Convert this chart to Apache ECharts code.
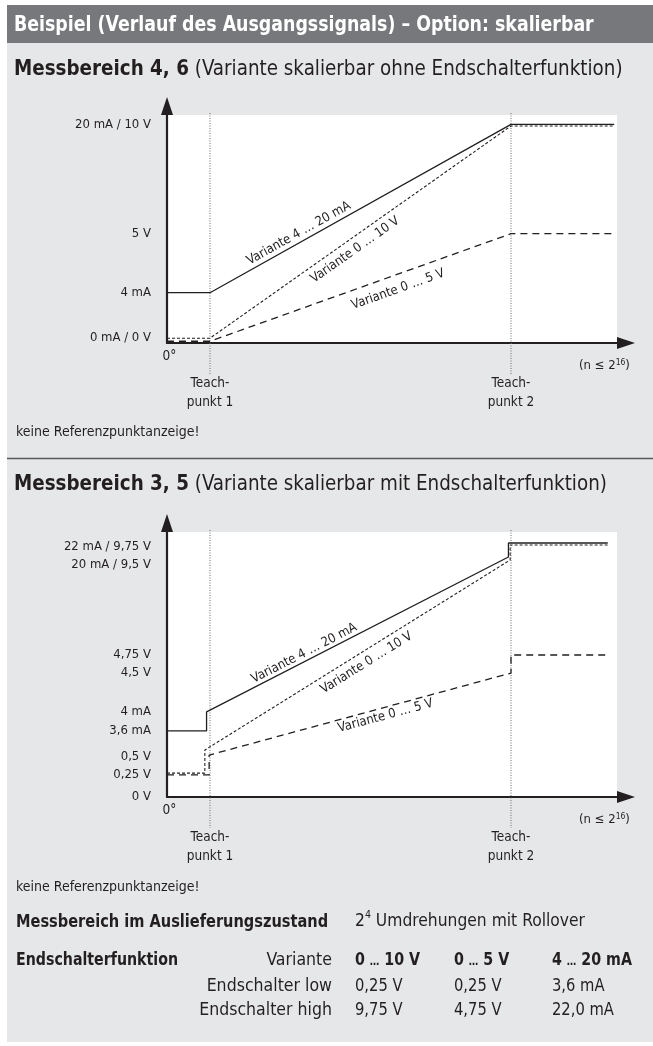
<!DOCTYPE html>
<html>
<head>
<meta charset="utf-8">
<script src="https://cdn.jsdelivr.net/npm/echarts@6/dist/echarts.min.js"></script>
<style>
  html, body { margin: 0; padding: 0; background: #fff; }
  #c { width: 653px; height: 1046px; }
</style>
</head>
<body>
<div id="c"></div>
<script>
// ---------- data ----------
// schematic travel axis: 0° … Teachpunkt 1 … Teachpunkt 2 … (n ≤ 2^16)
const teachPoints = [10, 80];
const xLabelValues = [0, 10, 80];
const xLabelTexts = ['0°', 'Teach-\npunkt 1', 'Teach-\npunkt 2'];

// Messbereich 4, 6 (ohne Endschalterfunktion), schematic signal level in % of full scale
const levelsA = [0, 23, 50, 100];
const levelTextsA = ['0 mA / 0 V', '4 mA', '5 V', '20 mA / 10 V'];
const curveA_4_20mA = [[0, 23], [10, 23], [80, 100], [104, 100]];
const curveA_0_10V = [[0, 2.2], [10, 2.2], [80, 99.3], [104, 99.3]];
const curveA_0_5V = [[0, 0.8], [10, 0.8], [80, 50], [104, 50]];

// Messbereich 3, 5 (mit Endschalterfunktion), schematic signal level
const levelsB = [0, 9, 17.3, 26, 33.5, 48.8, 55.9, 94.5, 100];
const levelTextsB = ['0 V', '0,25 V', '0,5 V', '3,6 mA', '4 mA', '4,5 V', '4,75 V', '20 mA / 9,5 V', '22 mA / 9,75 V'];
const curveB_4_20mA = [[0, 26], [9.2, 26], [9.2, 33.5], [79.4, 94.5], [79.4, 100], [102.5, 100]];
const curveB_0_10V = [[0, 9.4], [8.8, 9.4], [8.8, 18.5], [79.8, 93.3], [79.8, 99.2], [102.5, 99.2]];
const curveB_0_5V = [[0, 8.7], [9.8, 8.7], [9.8, 16.5], [80, 48.8], [80, 55.9], [102.5, 55.9]];

const variantNames = ['Variante 4 … 20 mA', 'Variante 0 … 10 V', 'Variante 0 … 5 V'];

// Endschalter table
const tableRowHeads = ['Variante', 'Endschalter low', 'Endschalter high'];
const col_0_10V = ['0 … 10 V', '0,25 V', '9,75 V'];
const col_0_5V = ['0 … 5 V', '0,25 V', '4,75 V'];
const col_4_20mA = ['4 … 20 mA', '3,6 mA', '22,0 mA'];

// ---------- look ----------
const FONT = "'DejaVu Sans Condensed', 'Liberation Sans Narrow', 'DejaVu Sans', sans-serif";
const INK = '#231f20';
const BAR_GREY = '#77787b';
const PANEL_GREY = '#e6e7e8';

const X_MAX = 104.65;
const Y_MAX = [104.3, 104.33];
const grids = [
  { left: 167, top: 115, width: 450, height: 228 },
  { left: 167, top: 532, width: 450, height: 265 }
];
// vertical nudge (px) of individual level labels where they are crowded
const labelNudgeA = [-5, 0, 0, 0];
const labelNudgeB = [0, 0, 4, 0, 0, 0, 0, 8, 4];

const lineStyles = [
  { color: INK, width: 1.3, type: 'solid' },
  { color: INK, width: 1.1, type: [3, 2] },
  { color: INK, width: 1.3, type: [7, 5] }
];

function nudgeKey(n) { return n === 0 ? null : (n > 0 ? 'd' + n : 'u' + (-n)); }

function makeYAxis(gi, levels, texts, nudges) {
  const rich = {};
  nudges.forEach(function (n) {
    const k = nudgeKey(n);
    if (k) rich[k] = {
      fontFamily: FONT, fontSize: 13, color: INK,
      padding: n > 0 ? [2 * n, 0, 0, 0] : [0, 0, -2 * n, 0]
    };
  });
  return {
    type: 'value', gridIndex: gi, min: 0, max: Y_MAX[gi],
    splitLine: { show: false },
    axisTick: { show: false },
    axisLine: {
      show: true, onZero: false,
      symbol: ['none', 'triangle'], symbolSize: [12, 18], symbolOffset: [0, 9],
      lineStyle: { color: INK, width: 2.2 }
    },
    axisLabel: {
      customValues: levels,
      margin: 16, fontFamily: FONT, fontSize: 13, color: INK,
      rich: rich,
      formatter: function (v) {
        const i = levels.indexOf(v);
        if (i < 0) return '';
        const k = nudgeKey(nudges[i]);
        return k ? '{' + k + '|' + texts[i] + '}' : texts[i];
      }
    }
  };
}

function makeXAxis(gi) {
  return {
    type: 'value', gridIndex: gi, min: 0, max: X_MAX,
    splitLine: { show: false },
    axisTick: { show: false },
    axisLine: {
      show: true, onZero: false,
      symbol: ['none', 'triangle'], symbolSize: [12, 18], symbolOffset: [0, 9],
      lineStyle: { color: INK, width: 2.2 }
    },
    name: '(n ≤ 2{sup|16})',
    nameLocation: 'end',
    nameGap: -38,
    nameTextStyle: {
      fontFamily: FONT, fontSize: 13, color: INK, align: 'left', verticalAlign: 'top',
      lineHeight: 16, padding: [15, 0, 0, 0],
      rich: { sup: { fontFamily: FONT, fontSize: 8.5, color: INK, verticalAlign: 'top', lineHeight: 10 } }
    },
    axisLabel: {
      customValues: xLabelValues,
      margin: 4, fontFamily: FONT, fontSize: 13.5, color: INK, lineHeight: 19,
      rich: {
        sp: { fontSize: 13, lineHeight: 27 },
        origin: { fontFamily: FONT, fontSize: 13.5, color: INK, lineHeight: 19, padding: [0, 0, 0, 5] }
      },
      formatter: function (v) {
        const i = xLabelValues.indexOf(v);
        if (i < 0) return '';
        return i === 0 ? '{origin|' + xLabelTexts[i] + '}' : '{sp| }\n' + xLabelTexts[i];
      }
    }
  };
}

function makeSeries(gi, name, data, st) {
  return {
    type: 'line', name: name, xAxisIndex: gi, yAxisIndex: gi,
    data: data, symbol: 'none', animation: false, z: 3,
    lineStyle: { color: st.color, width: st.width, type: st.type }
  };
}

const chart = echarts.init(document.getElementById('c'), null, { renderer: 'canvas' });

chart.setOption({
  animation: false,
  backgroundColor: '#ffffff',
  grid: grids.map(function (g) {
    return Object.assign({ show: true, backgroundColor: '#ffffff', borderWidth: 0, containLabel: false }, g);
  }),
  xAxis: [makeXAxis(0), makeXAxis(1)],
  yAxis: [makeYAxis(0, levelsA, levelTextsA, labelNudgeA), makeYAxis(1, levelsB, levelTextsB, labelNudgeB)],
  series: [
    makeSeries(0, variantNames[0], curveA_4_20mA, lineStyles[0]),
    makeSeries(0, variantNames[1], curveA_0_10V, lineStyles[1]),
    makeSeries(0, variantNames[2], curveA_0_5V, lineStyles[2]),
    makeSeries(1, variantNames[0], curveB_4_20mA, lineStyles[0]),
    makeSeries(1, variantNames[1], curveB_0_10V, lineStyles[1]),
    makeSeries(1, variantNames[2], curveB_0_5V, lineStyles[2])
  ]
});

// ---------- page furniture and annotations ----------
function txt(x, y, text, size, opts) {
  opts = opts || {};
  return {
    type: 'text', x: x, y: y, z: 50, silent: true,
    scaleX: opts.sx || 1,
    style: Object.assign({
      text: text, fill: INK, fontFamily: FONT, fontSize: size,
      fontWeight: opts.bold ? 'bold' : 'normal',
      align: opts.align || 'left', verticalAlign: 'middle'
    }, opts.style || {})
  };
}
// narrow ellipsis inside bold table headers
const ellRich = { e: { fontFamily: FONT, fontSize: 12, fontWeight: 'bold', fill: INK, verticalAlign: 'bottom', padding: [0, 0, 1.5, 0] } };
function narrowEllipsis(t) { return t.replace('…', '{e|…}'); }

const g = [];
// panels
g.push({ type: 'rect', z: -100, silent: true, shape: { x: 7, y: 5, width: 646, height: 38 }, style: { fill: BAR_GREY } });
g.push({ type: 'rect', z: -100, silent: true, shape: { x: 7, y: 43, width: 646, height: 999 }, style: { fill: PANEL_GREY } });
g.push({ type: 'line', z: -90, silent: true, shape: { x1: 7, y1: 458.5, x2: 653, y2: 458.5 }, style: { stroke: '#58595b', lineWidth: 1.5 } });

// headings
g.push(txt(14, 26, 'Beispiel (Verlauf des Ausgangssignals) – Option: skalierbar', 20.5, { bold: true, sx: 0.943, style: { fill: '#ffffff' } }));
const headRich = { b: { fontFamily: FONT, fontSize: 21, fontWeight: 'bold', fill: INK } };
g.push(txt(14, 70, '{b|Messbereich 4, 6} (Variante skalierbar ohne Endschalterfunktion)', 21, { sx: 0.97, style: { rich: headRich } }));
g.push(txt(14, 485, '{b|Messbereich 3, 5} (Variante skalierbar mit Endschalterfunktion)', 21, { sx: 0.97, style: { rich: headRich } }));
g.push(txt(16, 432, 'keine Referenzpunktanzeige!', 14));
g.push(txt(16, 887, 'keine Referenzpunktanzeige!', 14));

// Auslieferungszustand + Endschalter table
g.push(txt(16, 922, 'Messbereich im Auslieferungszustand', 18, { bold: true, sx: 0.9 }));
g.push(txt(355, 921, '2{sup|4} Umdrehungen mit Rollover', 18, {
  sx: 0.96,
  style: { lineHeight: 22, rich: { sup: { fontFamily: FONT, fontSize: 11, fill: INK, verticalAlign: 'top', lineHeight: 12 } } }
}));
g.push(txt(16, 960, 'Endschalterfunktion', 18, { bold: true, sx: 0.876 }));
const rowY = [960, 986.5, 1010.5];
const colX = [355, 454, 552];
[col_0_10V, col_0_5V, col_4_20mA].forEach(function (col, c) {
  col.forEach(function (t, r) {
    if (r === 0) {
      g.push(txt(colX[c], rowY[r], narrowEllipsis(t), 18, { bold: true, sx: 0.88, style: { rich: ellRich } }));
    } else {
      g.push(txt(colX[c], rowY[r], t, 18, { sx: 0.91 }));
    }
  });
});
tableRowHeads.forEach(function (t, r) {
  g.push(txt(332, rowY[r], t, 18, { align: 'right', sx: 0.975 }));
});

// dotted Teachpunkt guides, positioned through the axes
const px = function (gi, p) { return chart.convertToPixel({ gridIndex: gi }, p); };
const guideTail = [32, 31];
[0, 1].forEach(function (gi) {
  teachPoints.forEach(function (tp) {
    const p0 = px(gi, [tp, 0]);
    const p1 = px(gi, [tp, Y_MAX[gi]]);
    g.push({
      type: 'line', z: 1, silent: true,
      shape: { x1: p0[0], y1: p1[1] - 2, x2: p0[0], y2: p0[1] + guideTail[gi] },
      style: { stroke: '#6d6e71', lineWidth: 1, lineDash: [1, 1.5] }
    });
  });
});

// variant captions along the curves
const captions = [
  { gi: 0, data: curveA_4_20mA, text: variantNames[0], at: 31.6, side: 'above', gap: 2 },
  { gi: 0, data: curveA_0_10V, text: variantNames[1], at: 42.2, side: 'below', gap: 5 },
  { gi: 0, data: curveA_0_5V, text: variantNames[2], at: 52.6, side: 'below', gap: 8 },
  { gi: 1, data: curveB_4_20mA, text: variantNames[0], at: 32.7, side: 'above', gap: 1 },
  { gi: 1, data: curveB_0_10V, text: variantNames[1], at: 45, side: 'below', gap: 5 },
  { gi: 1, data: curveB_0_5V, text: variantNames[2], at: 50.3, side: 'below', gap: 2 }
];
captions.forEach(function (c) {
  let a = null, b = null;
  for (let i = 0; i < c.data.length - 1; i++) {
    if (c.data[i][0] <= c.at && c.data[i + 1][0] > c.at) { a = c.data[i]; b = c.data[i + 1]; break; }
  }
  if (!a) return;
  const A = px(c.gi, a), B = px(c.gi, b);
  const t = (c.at - a[0]) / (b[0] - a[0]);
  const x = A[0] + (B[0] - A[0]) * t;
  const y = A[1] + (B[1] - A[1]) * t;
  const ang = Math.atan2(A[1] - B[1], B[0] - A[0]);
  g.push({
    type: 'text', z: 50, silent: true, x: x, y: y, rotation: ang,
    style: {
      text: c.text, fill: INK, fontFamily: FONT, fontSize: 13,
      align: 'center', verticalAlign: c.side === 'above' ? 'bottom' : 'top',
      x: 0, y: c.side === 'above' ? -c.gap : c.gap
    }
  });
});

chart.setOption({ graphic: { elements: g } });
</script>
</body>
</html>
